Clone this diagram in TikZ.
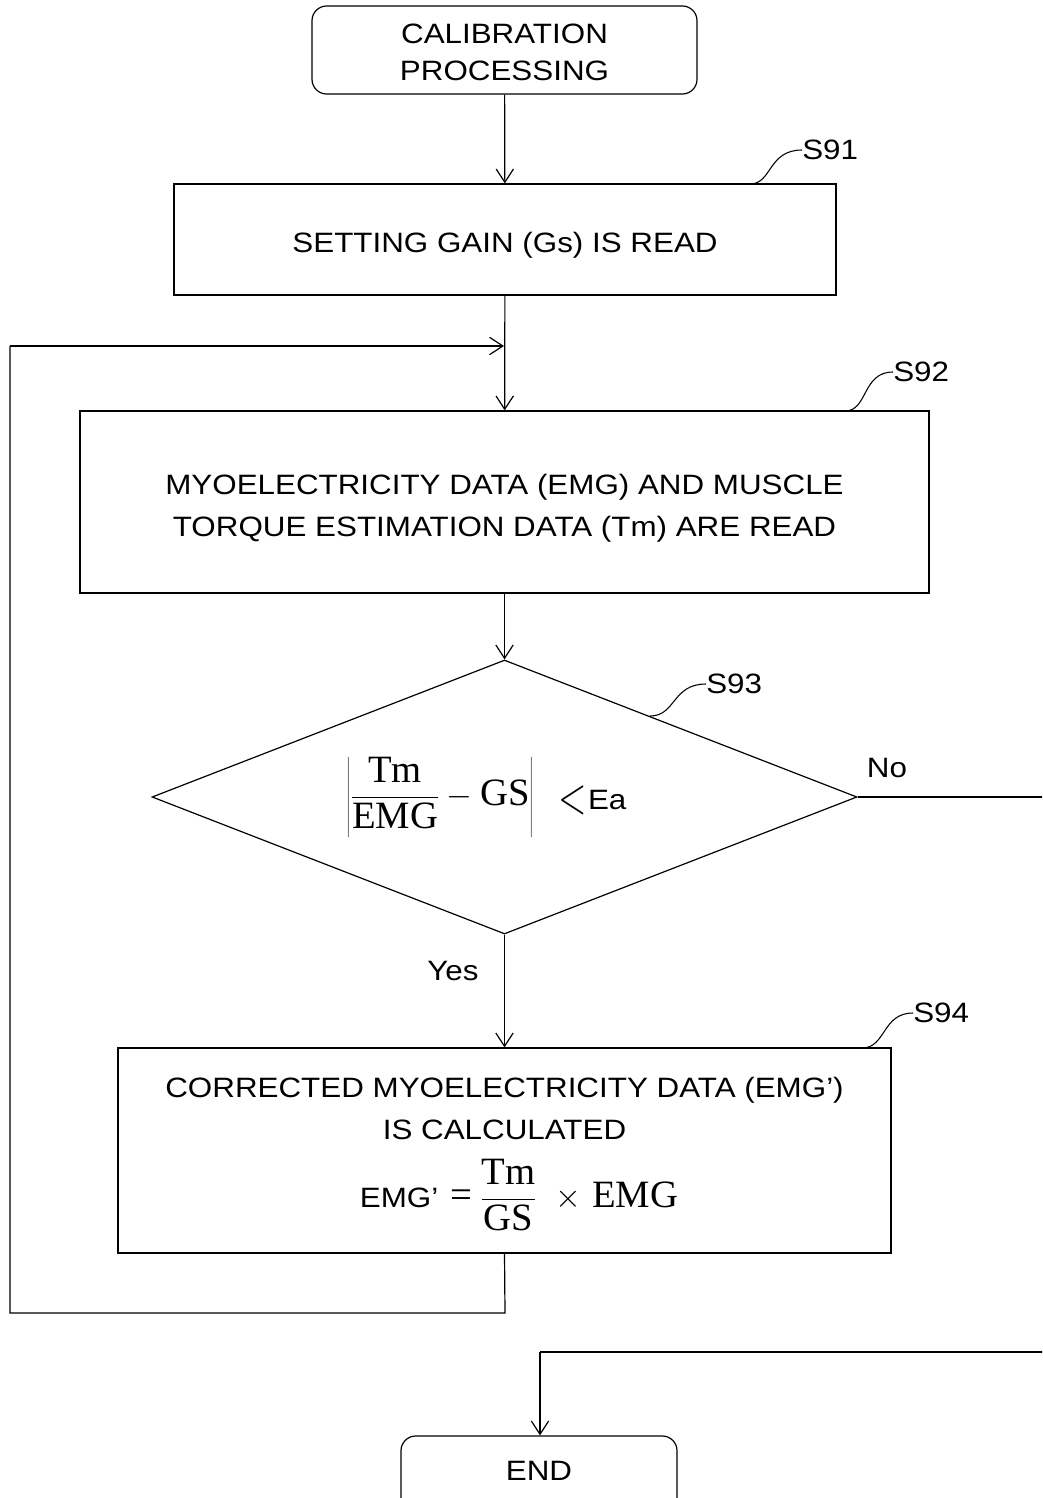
\documentclass[tikz,border=0pt]{standalone}
\usepackage{fontspec}
\setmainfont[FakeStretch=1.12]{Liberation Sans}
\newfontfamily\serifA{Liberation Serif}
\usetikzlibrary{arrows.meta,shapes.geometric}
\begin{document}
\begin{tikzpicture}[x=0.75pt,y=-0.75pt,
  every node/.style={font=\fontsize{21}{28}\selectfont, inner sep=0pt},
  box/.style={draw, line width=0.9pt, rectangle},
  term/.style={draw, line width=0.9pt, rectangle, rounded corners=11pt},
  dec/.style={draw, line width=0.9pt, diamond},
  line/.style={line width=0.9pt},
  arr/.style={line width=0.9pt, -{Straight Barb[length=10pt,width=13pt,line width=0.9pt]}},
  lead/.style={line width=0.8pt},
  lbl/.style={anchor=west}]
\clip (0,0) rectangle (1042,1498);
% nodes
\node[term, minimum width=288.75pt, minimum height=66pt] (start) at (504.5,50) {};
\node[align=center] (tstart) at (504.5,52.5) {CALIBRATION\\PROCESSING};
\node[box, minimum width=496.5pt, minimum height=83.25pt] (s91) at (505,239.5) {};
\node (t91) at (505,245.5) {SETTING GAIN (Gs) IS READ};
\node[box, minimum width=636.75pt, minimum height=136.5pt] (s92) at (504.5,502) {};
\node[align=center, font=\fontsize{21}{31.5}\selectfont] (t92) at (504.5,508) {MYOELECTRICITY DATA (EMG) AND MUSCLE\\TORQUE ESTIMATION DATA (Tm) ARE READ};
\node[dec, minimum width=528.75pt, minimum height=205.5pt] (s93) at (504.5,797) {};
\node (f93) at (440,797) {\serifA\fontsize{29}{32}\selectfont $\displaystyle\left|\frac{\hbox{Tm}}{\hbox{EMG}}-\hbox{GS}\right|$};
\node[anchor=west] (ea) at (558,800) {\raisebox{-3pt}{\scalebox{1.35}[1.9]{$<$}}\hspace{1pt}Ea};
\node[box, minimum width=579.75pt, minimum height=153.75pt] (s94) at (504.5,1150.5) {};
\node (t94) at (504.5,1108) [align=center, font=\fontsize{21}{31.5}\selectfont] {CORRECTED MYOELECTRICITY DATA (EMG')\\IS CALCULATED};
\node (f94) at (519,1195) {EMG'\hspace{9pt}{\serifA\fontsize{29}{32}\selectfont =\hspace{6pt}$\displaystyle\frac{\hbox{Tm}}{\hbox{GS}}$\hspace{14pt}$\times$\hspace{8pt}EMG}};
\node[term, minimum width=207pt, minimum height=63pt] (end) at (539,1478) {};
\node (endt) at (539,1471) {END};
% labels
\node[lbl] (l91) at (802,150) {S91};
\node[lbl] (l92) at (893,372) {S92};
\node[lbl] (l93) at (706,684) {S93};
\node[lbl] (l94) at (913,1013) {S94};
\node (no) at (887,768) {No};
\node (yes) at (453,971) {Yes};
% leaders
\draw[lead] (750,184) .. controls (772,184) and (768,150) .. (l91.west);
\draw[lead] (845,411) .. controls (868,411) and (862,372) .. (l92.west);
\draw[lead] (650,716) .. controls (676,716) and (672,684) .. (l93.west);
\draw[lead] (862,1048) .. controls (886,1048) and (882,1013) .. (l94.west);
% connectors
\draw[arr] (start) -- (s91);
\draw[arr] (s91) -- (s92);
\draw[arr] (s92) -- (s93);
\draw[arr] (s93) -- (s94);
\coordinate (lp1) at (505,1313);
\coordinate (lp2) at (10,1313);
\coordinate (lp3) at (10,346);
\coordinate (lp4) at (504,346);
\draw[line] (s94.south) -- (lp1) -- (lp2) -- (lp3);
\draw[arr] (lp3) -- (lp4);
\coordinate (no1) at (1045,797);
\draw[line] (s93.east) -- (no1);
\coordinate (e1) at (1045,1352);
\coordinate (e2) at (540,1352);
\draw[line] (e1) -- (e2);
\draw[arr] (e2) -- (end.north -| e2);
\end{tikzpicture}
\end{document}
